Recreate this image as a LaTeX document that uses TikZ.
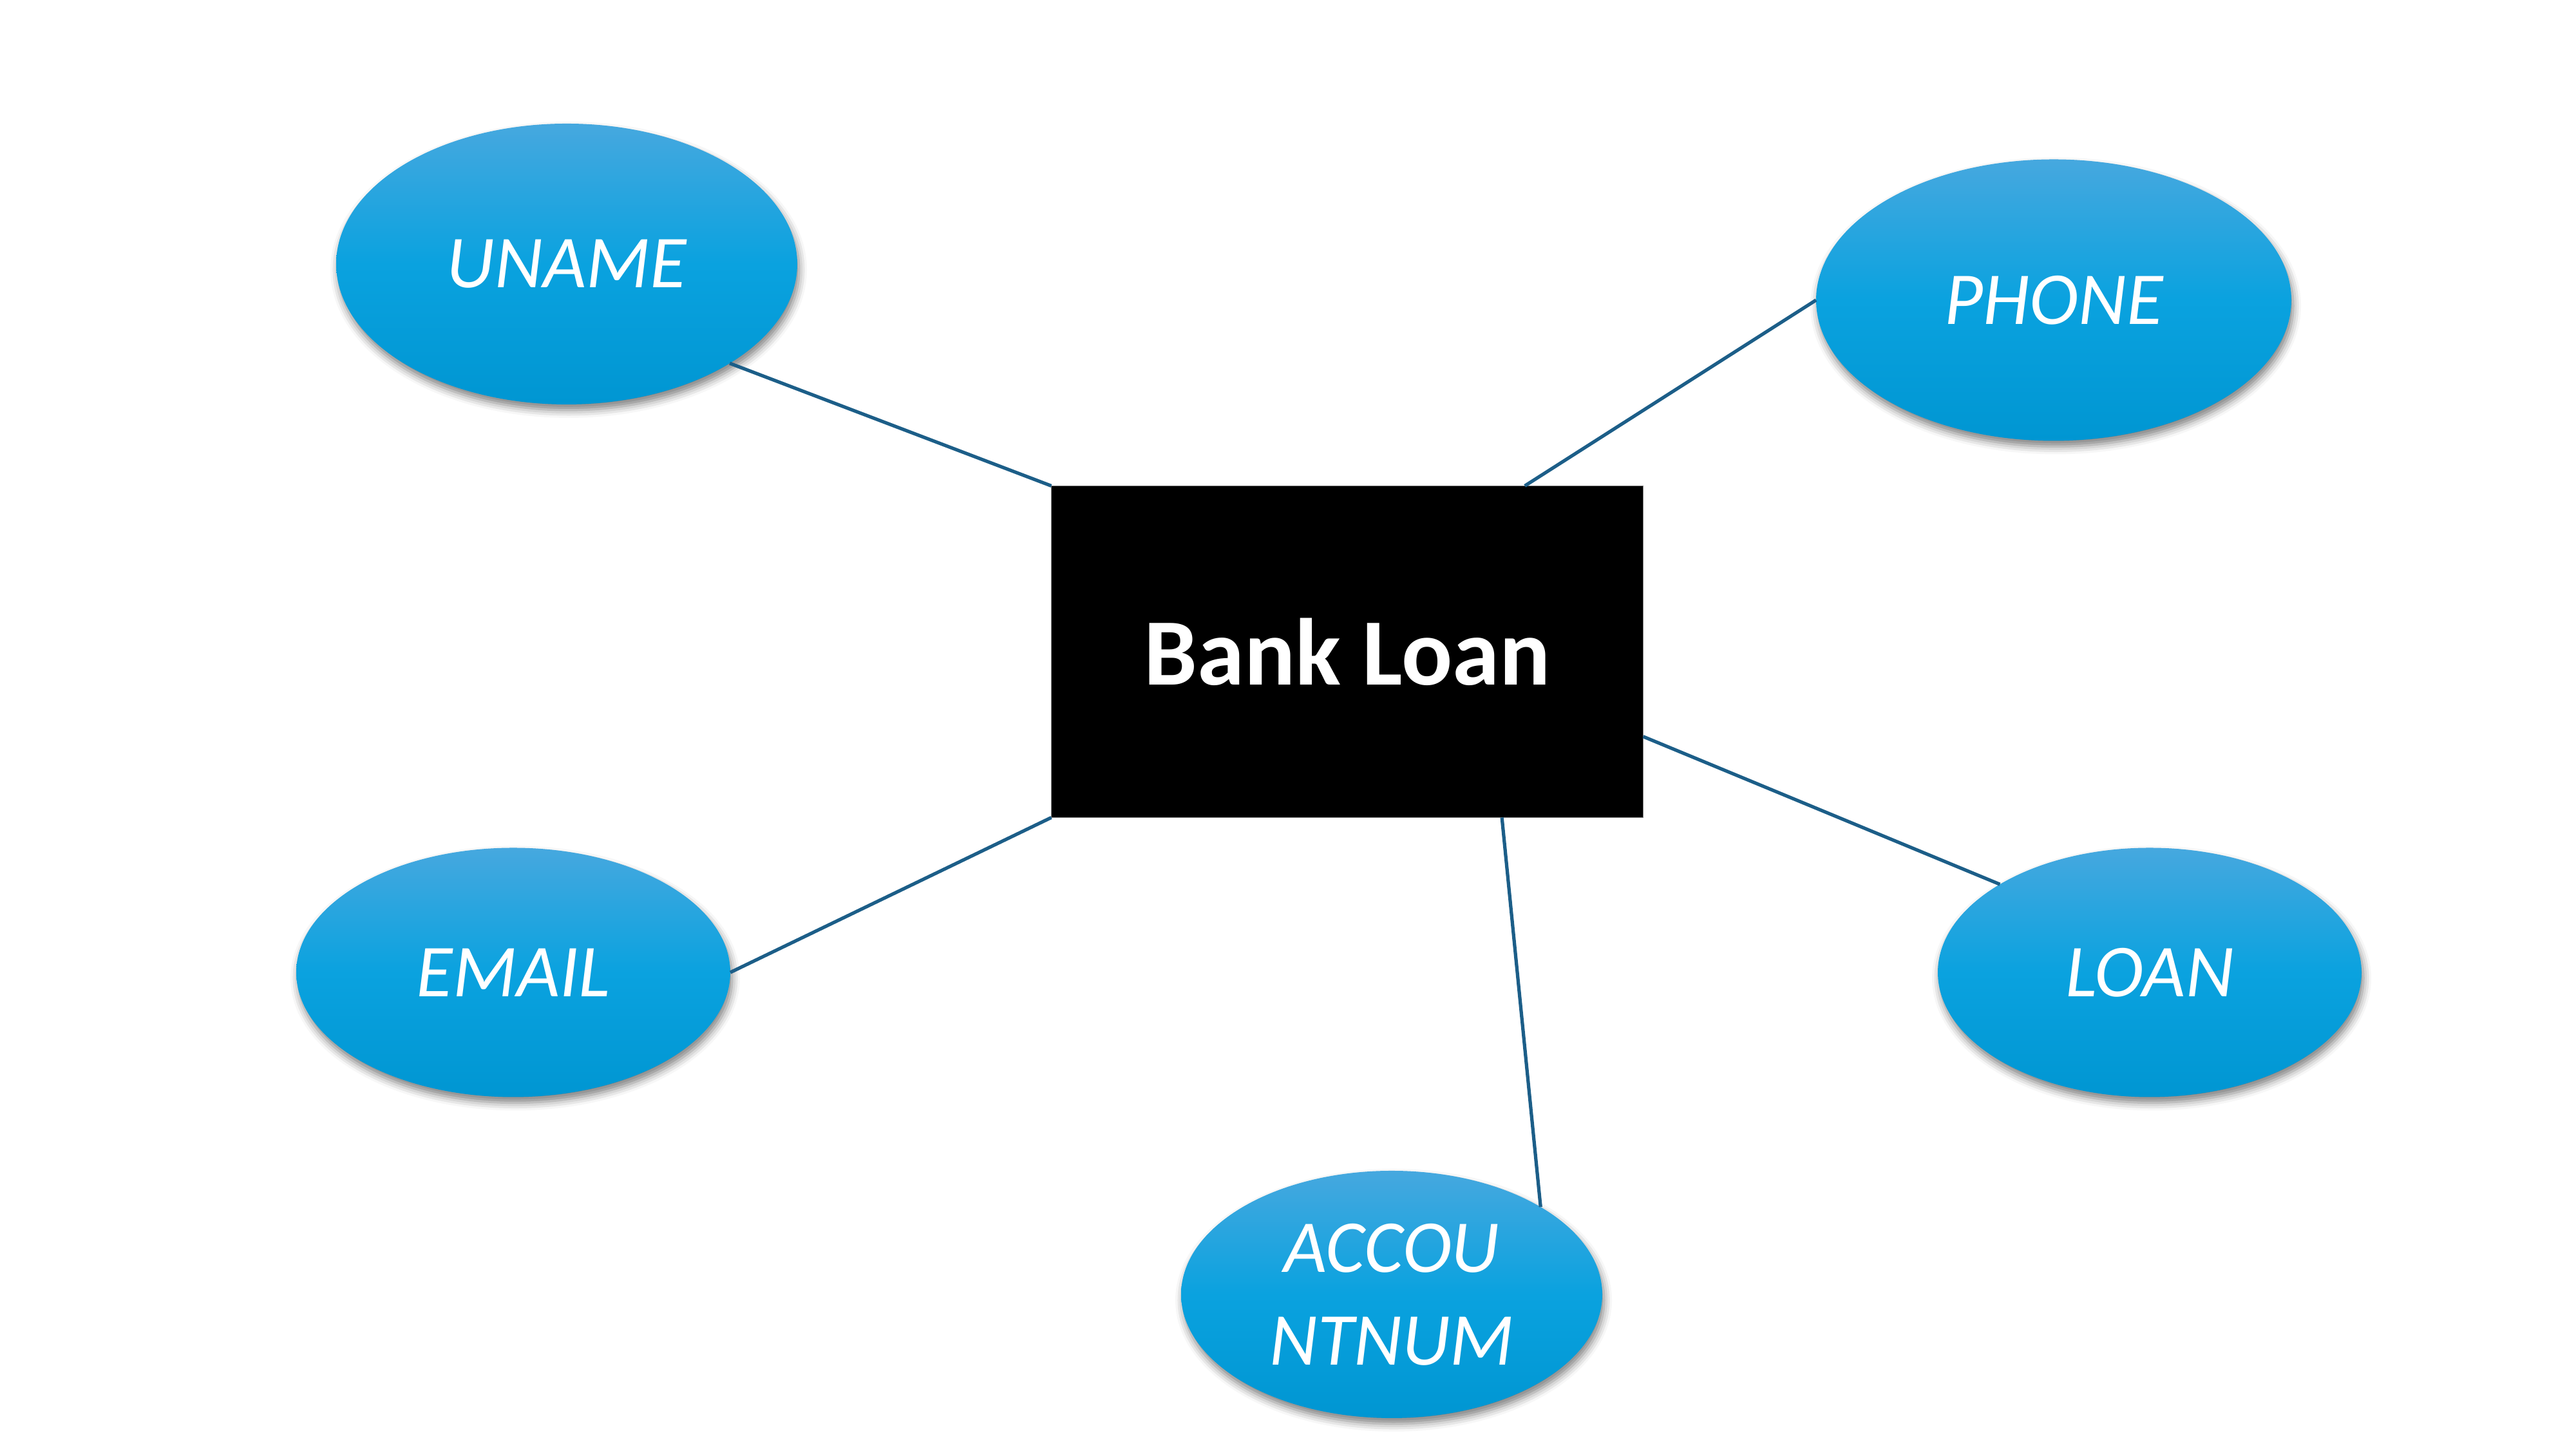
\documentclass[tikz,border=0pt]{standalone}
\usepackage{fontspec}
\setmainfont{Carlito}
\usetikzlibrary{shapes.geometric,shadows.blur,calc}
\definecolor{attrtop}{HTML}{46A8DF}
\definecolor{attrmid}{HTML}{0AA2DF}
\definecolor{attrbot}{HTML}{0096D2}
\definecolor{linkblue}{HTML}{1C5E88}
\begin{document}
\begin{tikzpicture}[
  attr/.style={ellipse,inner sep=0pt,outer sep=0pt,top color=attrtop,bottom color=attrbot,middle color=attrmid,
    blur shadow={shadow xshift=0.03cm,shadow yshift=-0.09cm,shadow blur radius=0.12cm,shadow opacity=50},
    text=white,font=\fontsize{33}{41}\selectfont\itshape,align=center},
  link/.style={draw=linkblue,line width=1.5pt}]
\useasboundingbox (0,0) rectangle (40,22.5);
%\draw[gray,very thin] (0,0) grid (40,22.5);
\node[fill=black,draw=gray,line width=0.4pt,minimum width=9.19cm,minimum height=5.15cm,inner sep=0pt,outer sep=0pt,
  text=white,font=\fontsize{42}{50}\selectfont\bfseries] (bank) at (20.92,12.38) {Bank Loan};
\node[attr,minimum width=7.16cm,minimum height=4.36cm] (uname) at (8.80,18.40) {UNAME};
\node[attr,minimum width=7.38cm,minimum height=4.37cm] (phone) at (31.89,17.84) {PHONE};
\node[attr,minimum width=6.74cm,minimum height=3.87cm] (email) at (7.97,7.40) {EMAIL};
\node[attr,minimum width=6.58cm,minimum height=3.87cm] (loan) at (33.38,7.40) {LOAN};
\node[attr,minimum width=6.54cm,minimum height=3.84cm] (acc) at (21.61,2.40) {ACCOU\\NTNUM};
\draw[link] (uname.south east) -- (bank.north west);
\draw[link] ($(bank.north west)!0.8!(bank.north east)$) -- (phone.west);
\draw[link] (email.east) -- (bank.south west);
\draw[link] (bank.-16) -- (loan.north west);
\draw[link] (bank.-47.5) -- (acc.north east);
\end{tikzpicture}
\end{document}
